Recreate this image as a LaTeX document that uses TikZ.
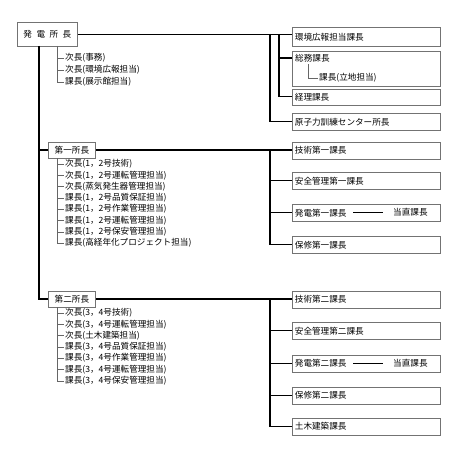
\documentclass[tikz,border=0pt]{standalone}
\usepackage{fontspec}
\setmainfont{Noto Sans CJK JP}
\begin{document}
\begin{tikzpicture}[x=1pt,y=-1pt,
  every node/.style={font=\fontsize{8.6}{10}\selectfont, text=black, inner sep=0pt},
  rbox/.style={draw=black!55, line width=0.8pt, anchor=north west, minimum width=148pt,
    text width=143pt, align=left, inner xsep=2.5pt, minimum height=#1},
  rbox/.default=17pt,
  lbox/.style={draw=black!55, line width=0.8pt, anchor=west, minimum width=47pt, minimum height=16pt},
  item/.style={anchor=west, inner xsep=1pt},
  main/.style={line width=1.1pt, black},
  sub/.style={line width=0.6pt, black!60},
  dashline/.style={line width=0.7pt, black}]
\path[use as bounding box] (0,0) rectangle (450,452);

% ---------- head ----------
\node[draw=black!55, line width=0.8pt, minimum width=60pt, minimum height=24pt, anchor=north west]
  (hq) at (17,22) {発\hspace{4.5pt}電\hspace{4.5pt}所\hspace{4.5pt}長};
\coordinate (trunk) at (39,46);
\coordinate (hqsub) at (57,46);
\node[item] (ha1) at (64,58) {次長(事務)};
\node[item] (ha2) at (64,70) {次長(環境広報担当)};
\node[item] (ha3) at (64,82) {課長(展示館担当)};
\draw[sub] (hqsub) |- (ha3.west);
\draw[sub] (hqsub |- ha1.west) -- (ha1.west);
\draw[sub] (hqsub |- ha2.west) -- (ha2.west);

% right top
\node[rbox=19pt] (kankyo) at (292,27) {環境広報担当課長};
\node[draw=black!55, line width=0.8pt, anchor=north west, minimum width=148pt, minimum height=35pt] (somubox) at (292,51) {};
\node[item] (somu) at (294,58) {総務課長};
\node[item] (ritchi) at (318,78) {課長(立地担当)};
\coordinate (ritchiTop) at (308,64);
\draw[sub] (ritchiTop) |- (ritchi.west);
\node[rbox=16pt] (keiri) at (292,88.5) {経理課長};
\node[rbox=17pt] (genshi) at (292,113) {原子力訓練センター所長};

\coordinate (ra) at (270,34);
\coordinate (rb) at (279,34);
\draw[main] (hq.east) -- (hq.east -| kankyo.west);
\draw[main] (ra) |- (genshi.west);
\draw[main] (rb) |- (keiri.west);
\draw[main] (rb |- somu.west) -- (somu.west -| somubox.west);

% ---------- section 1 ----------
\node[lbox] (so1) at (48,150) {第一所長};
\draw[main] (trunk |- so1.west) -- (so1.west);
\coordinate (s1sub) at (57,158);
\node[item] (b1) at (64,164.0) {次長(1，2号技術)};
\node[item] (b2) at (64,175.3) {次長(1，2号運転管理担当)};
\node[item] (b3) at (64,186.6) {次長(蒸気発生器管理担当)};
\node[item] (b4) at (64,197.9) {課長(1，2号品質保証担当)};
\node[item] (b5) at (64,209.2) {課長(1，2号作業管理担当)};
\node[item] (b6) at (64,220.5) {課長(1，2号運転管理担当)};
\node[item] (b7) at (64,231.8) {課長(1，2号保安管理担当)};
\node[item] (b8) at (64,243.1) {課長(高経年化プロジェクト担当)};
\draw[sub] (s1sub) |- (b8.west);
\foreach \i in {1,...,7} { \draw[sub] (s1sub |- b\i.west) -- (b\i.west); }

\node[rbox] (g1) at (292,141.5) {技術第一課長};
\node[rbox] (an1) at (292,172) {安全管理第一課長};
\node[rbox] (hd1) at (292,204) {発電第一課長};
\node[rbox] (hs1) at (292,236) {保修第一課長};
\coordinate (dl1s) at (353,212.5);
\coordinate (dl1e) at (383,212.5);
\node[item] (td1) at (392,212.5) {当直課長};
\draw[dashline] (dl1s) -- (dl1e);
\coordinate (rc) at (270,150);
\draw[main] (so1.east) -- (so1.east -| g1.west);
\draw[main] (rc) |- (hs1.west);
\draw[main] (rc |- an1.west) -- (an1.west);
\draw[main] (rc |- hd1.west) -- (hd1.west);

% ---------- section 2 ----------
\node[lbox] (so2) at (48,299) {第二所長};
\draw[main] (trunk) |- (so2.west);
\coordinate (s2sub) at (57,307);
\node[item] (c1) at (64,313.0) {次長(3，4号技術)};
\node[item] (c2) at (64,324.3) {次長(3，4号運転管理担当)};
\node[item] (c3) at (64,335.6) {次長(土木建築担当)};
\node[item] (c4) at (64,346.9) {課長(3，4号品質保証担当)};
\node[item] (c5) at (64,358.2) {課長(3，4号作業管理担当)};
\node[item] (c6) at (64,369.5) {課長(3，4号運転管理担当)};
\node[item] (c7) at (64,380.8) {課長(3，4号保安管理担当)};
\draw[sub] (s2sub) |- (c7.west);
\foreach \i in {1,...,6} { \draw[sub] (s2sub |- c\i.west) -- (c\i.west); }

\node[rbox] (g2) at (292,290.5) {技術第二課長};
\node[rbox] (an2) at (292,322) {安全管理第二課長};
\node[rbox] (hd2) at (292,354.5) {発電第二課長};
\node[rbox] (hs2) at (292,386.5) {保修第二課長};
\node[rbox] (dk) at (292,417.5) {土木建築課長};
\coordinate (dl2s) at (353,363);
\coordinate (dl2e) at (383,363);
\node[item] (td2) at (392,363) {当直課長};
\draw[dashline] (dl2s) -- (dl2e);
\coordinate (rd) at (270,299);
\draw[main] (so2.east) -- (so2.east -| g2.west);
\draw[main] (rd) |- (dk.west);
\draw[main] (rd |- an2.west) -- (an2.west);
\draw[main] (rd |- hd2.west) -- (hd2.west);
\draw[main] (rd |- hs2.west) -- (hs2.west);
\end{tikzpicture}
\end{document}
